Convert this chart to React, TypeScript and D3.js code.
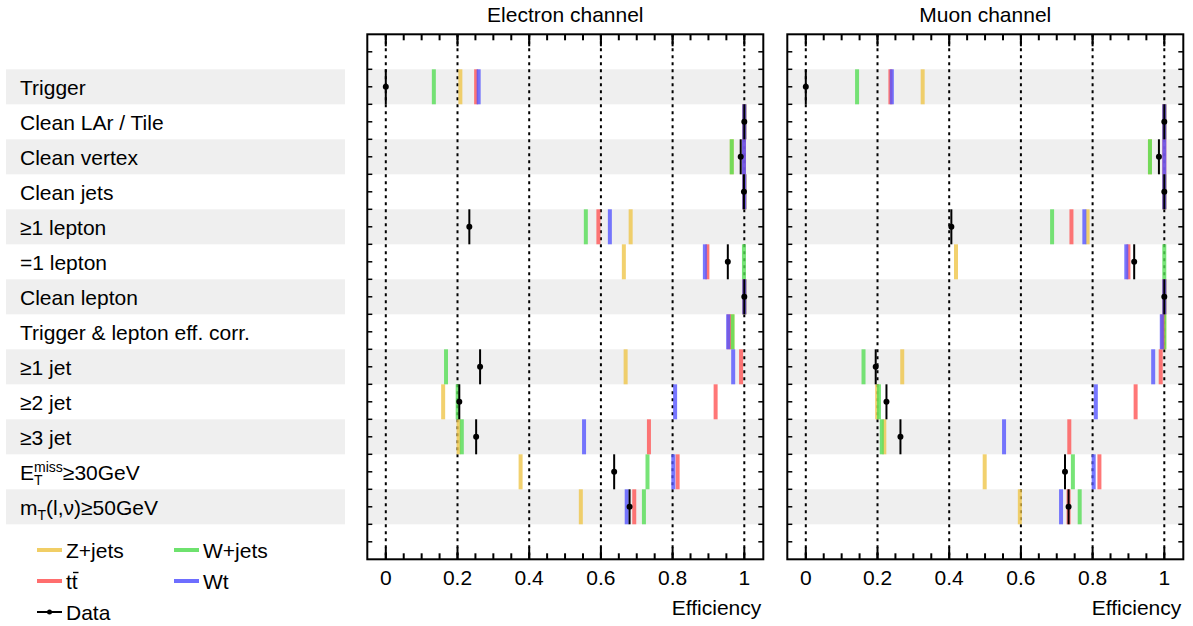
import React from "react";
import * as d3 from "d3";

const cuts = [
  "Trigger",
  "Clean LAr / Tile",
  "Clean vertex",
  "Clean jets",
  "≥1 lepton",
  "=1 lepton",
  "Clean lepton",
  "Trigger & lepton eff. corr.",
  "≥1 jet",
  "≥2 jet",
  "≥3 jet",
  "ETMISS",
  "MT",
];

const elZjets = [0.208, 1.0, 0.965, 1.0, 0.683, 0.664, 1.0, 0.967, 0.669, 0.160, 0.203, 0.376, 0.544];
const elWjets = [0.134, 1.0, 0.965, 1.0, 0.558, 0.999, 1.0, 0.967, 0.168, 0.2005, 0.212, 0.730, 0.720];
const elTtbar = [0.252, 1.0, 0.999, 1.0, 0.593, 0.897, 1.0, 0.957, 0.991, 0.920, 0.734, 0.814, 0.693];
const elWt = [0.259, 1.0, 0.999, 1.0, 0.625, 0.890, 1.0, 0.955, 0.969, 0.807, 0.553, 0.802, 0.672];
const elData: (number | null)[] = [0.0, 1.0, 0.990, 0.999, 0.233, 0.954, 1.0, null, 0.263, 0.205, 0.252, 0.637, 0.680];

const muZjets = [0.326, 1.0, 0.960, 1.0, 0.786, 0.419, 1.0, 1.0, 0.269, 0.199, 0.219, 0.499, 0.597];
const muWjets = [0.143, 1.0, 0.960, 1.0, 0.687, 1.0, 1.0, 1.0, 0.161, 0.204, 0.212, 0.745, 0.764];
const muTtbar = [0.236, 1.0, 1.0, 1.0, 0.741, 0.900, 1.0, 0.995, 0.990, 0.920, 0.735, 0.819, 0.733];
const muWt = [0.240, 1.0, 1.0, 1.0, 0.777, 0.894, 1.0, 0.993, 0.969, 0.809, 0.553, 0.803, 0.712];
const muData: (number | null)[] = [0.0, 1.0, 0.985, 1.0, 0.406, 0.916, 1.0, null, 0.195, 0.225, 0.264, 0.723, 0.733];

const majorTicks = [0, 0.2, 0.4, 0.6, 0.8, 1];
const tickLabels = ["0", "0.2", "0.4", "0.6", "0.8", "1"];

const COLORS = { z: "#efc54a", w: "#55dd55", tt: "#ff5555", wt: "#5555ff" };
const FONT = "'Liberation Sans', Arial, Helvetica, sans-serif";
const FS = 21;

const W = 1193;
const H = 626;
const yScale = d3.scaleLinear().domain([-1, 14]).range([34.3, 559.3]);
const GRAY = "#efefef";

type Panel = {
  title: string;
  frameL: number;
  frameR: number;
  x0: number;
  x1: number;
  z: number[];
  w: number[];
  tt: number[];
  wt: number[];
  data: (number | null)[];
};

const panels: Panel[] = [
  { title: "Electron channel", frameL: 367.3, frameR: 763.3, x0: 385.8, x1: 744.3, z: elZjets, w: elWjets, tt: elTtbar, wt: elWt, data: elData },
  { title: "Muon channel", frameL: 787.3, frameR: 1183.3, x0: 805.8, x1: 1164.3, z: muZjets, w: muWjets, tt: muTtbar, wt: muWt, data: muData },
];

function CutLabel({ label, y }: { label: string; y: number }) {
  const x = 20;
  if (label === "ETMISS") {
    return (
      <text x={x} y={y} fontSize={FS} fontFamily={FONT}>
        E
        <tspan fontSize={14} dy={5}>T</tspan>
        <tspan fontSize={14} dx={-8.5} dy={-13}>miss</tspan>
        <tspan fontSize={FS} dy={8}>≥30GeV</tspan>
      </text>
    );
  }
  if (label === "MT") {
    return (
      <text x={x} y={y} fontSize={FS} fontFamily={FONT}>
        m
        <tspan fontSize={14} dy={5}>T</tspan>
        <tspan fontSize={FS} dy={-5}>(l,ν)≥50GeV</tspan>
      </text>
    );
  }
  return (
    <text x={x} y={y} fontSize={FS} fontFamily={FONT}>
      {label}
    </text>
  );
}

function PanelView({ p }: { p: Panel }) {
  const x = d3.scaleLinear().domain([0, 1]).range([p.x0, p.x1]);
  const top = yScale(-1);
  const bottom = yScale(14);
  const minor = d3.range(-1, 21).map((i) => i * 0.05).filter((v) => x(v) > p.frameL + 1 && x(v) < p.frameR - 1);
  const halfRows = d3.range(-2, 29).map((i) => i * 0.5 - 0.5).filter((v) => yScale(v) > top + 1 && yScale(v) < bottom - 1);
  const series: [number[], string][] = [
    [p.z, COLORS.z],
    [p.w, COLORS.w],
    [p.tt, COLORS.tt],
    [p.wt, COLORS.wt],
  ];
  return (
    <g>
      {cuts.map((c, i) =>
        i % 2 === 0 ? (
          <rect key={c} x={p.frameL} y={yScale(i)} width={p.frameR - p.frameL} height={yScale(i + 1) - yScale(i)} fill={GRAY} />
        ) : null
      )}
      {majorTicks.map((t) => (
        <line key={t} x1={x(t)} x2={x(t)} y1={top} y2={bottom} stroke="#000" strokeWidth={2} strokeDasharray="3 4" />
      ))}
      {series.map(([vals, col], si) =>
        vals.map((v, i) => (
          <line key={si + "-" + i} x1={x(v)} x2={x(v)} y1={yScale(i)} y2={yScale(i + 1)} stroke={col} strokeWidth={4} strokeOpacity={0.8} />
        ))
      )}
      {p.data.map((v, i) =>
        v === null ? null : (
          <g key={"d" + i}>
            <line x1={x(v)} x2={x(v)} y1={yScale(i)} y2={yScale(i + 1)} stroke="#000" strokeWidth={2} />
            <circle cx={x(v)} cy={yScale(i + 0.5)} r={3} fill="#000" />
          </g>
        )
      )}
      <rect x={p.frameL} y={top} width={p.frameR - p.frameL} height={bottom - top} fill="none" stroke="#000" strokeWidth={2} />
      {majorTicks.map((t) => (
        <g key={"mt" + t}>
          <line x1={x(t)} x2={x(t)} y1={bottom} y2={bottom - 12} stroke="#000" strokeWidth={2} />
          <line x1={x(t)} x2={x(t)} y1={top} y2={top + 12} stroke="#000" strokeWidth={2} />
        </g>
      ))}
      {minor.map((t, i) => (
        <g key={"mn" + i}>
          <line x1={x(t)} x2={x(t)} y1={bottom} y2={bottom - 6} stroke="#000" strokeWidth={2} />
          <line x1={x(t)} x2={x(t)} y1={top} y2={top + 6} stroke="#000" strokeWidth={2} />
        </g>
      ))}
      {halfRows.map((v, i) => (
        <g key={"yt" + i}>
          <line x1={p.frameL} x2={p.frameL + 5} y1={yScale(v)} y2={yScale(v)} stroke="#000" strokeWidth={1.5} />
          <line x1={p.frameR} x2={p.frameR - 5} y1={yScale(v)} y2={yScale(v)} stroke="#000" strokeWidth={1.5} />
        </g>
      ))}
      {majorTicks.map((t, i) => (
        <text key={"tl" + t} x={x(t)} y={585} textAnchor="middle" fontSize={FS} fontFamily={FONT}>
          {tickLabels[i]}
        </text>
      ))}
      <text x={p.frameR - 2} y={615} textAnchor="end" fontSize={FS} fontFamily={FONT}>
        Efficiency
      </text>
      <text x={(p.frameL + p.frameR) / 2} y={22} textAnchor="middle" fontSize={FS} fontFamily={FONT}>
        {p.title}
      </text>
    </g>
  );
}

const legendItems = [
  { label: "Z+jets", color: COLORS.z, col: 0, row: 0 },
  { label: "W+jets", color: COLORS.w, col: 1, row: 0 },
  { label: "tt", color: COLORS.tt, col: 0, row: 1 },
  { label: "Wt", color: COLORS.wt, col: 1, row: 1 },
];

export default function App() {
  const legX = [37, 174];
  const legY = [550, 581, 612];
  return (
    <svg width={W} height={H} style={{ position: "absolute", left: 0, top: 0 }} xmlns="http://www.w3.org/2000/svg">
      <rect x={0} y={0} width={W} height={H} fill="#fff" />
      {cuts.map((c, i) =>
        i % 2 === 0 ? <rect key={"lb" + i} x={6} y={yScale(i)} width={339} height={yScale(i + 1) - yScale(i)} fill={GRAY} /> : null
      )}
      {cuts.map((c, i) => (
        <CutLabel key={"l" + i} label={c} y={yScale(i + 0.5) + 8} />
      ))}
      {panels.map((p) => (
        <PanelView key={p.title} p={p} />
      ))}
      {legendItems.map((it) => (
        <g key={it.label}>
          <line x1={legX[it.col]} x2={legX[it.col] + 25} y1={legY[it.row]} y2={legY[it.row]} stroke={it.color} strokeWidth={4} strokeOpacity={0.85} />
          <text x={legX[it.col] + 29} y={legY[it.row] + 7.5} fontSize={FS} fontFamily={FONT}>
            {it.label}
          </text>
        </g>
      ))}
      <line x1={legX[0] + 36} x2={legX[0] + 41.5} y1={legY[1] - 8.5} y2={legY[1] - 8.5} stroke="#000" strokeWidth={1.4} />
      <g>
        <line x1={legX[0]} x2={legX[0] + 25} y1={legY[2]} y2={legY[2]} stroke="#000" strokeWidth={2} />
        <circle cx={legX[0] + 12.5} cy={legY[2]} r={2.5} fill="#000" />
        <text x={legX[0] + 29} y={legY[2] + 7.5} fontSize={FS} fontFamily={FONT}>
          Data
        </text>
      </g>
    </svg>
  );
}
